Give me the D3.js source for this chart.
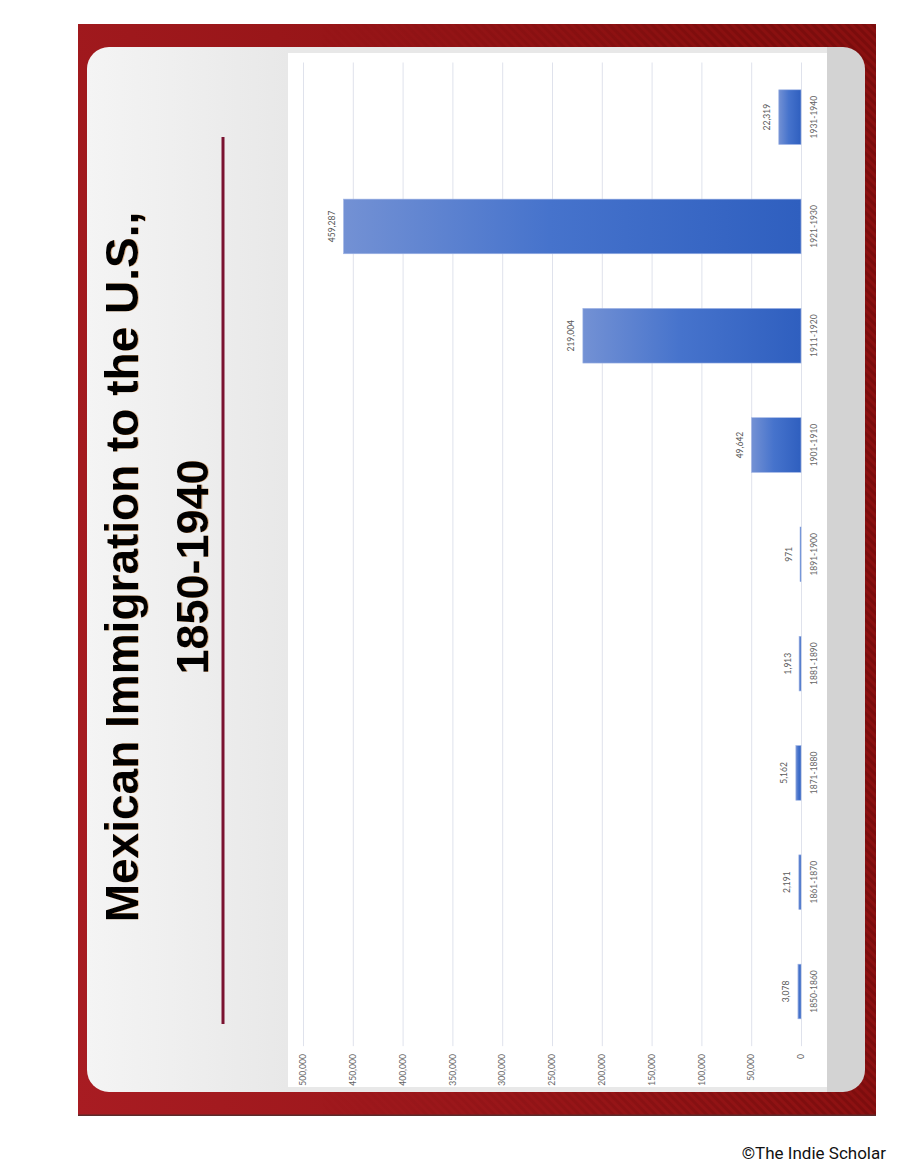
<!DOCTYPE html>
<html>
<head>
<meta charset="utf-8">
<script src="https://cdn.jsdelivr.net/npm/d3@7"></script>
<style>
  html, body { margin: 0; padding: 0; background: #fff; }
  svg { display: block; }
</style>
</head>
<body>
<svg id="slide_svg" width="900" height="1164"></svg>
<script>
// Data
const decades = ["1850-1860", "1861-1870", "1871-1880", "1881-1890", "1891-1900",
                 "1901-1910", "1911-1920", "1921-1930", "1931-1940"];
const immigrants = [3078, 2191, 5162, 1913, 971, 49642, 219004, 459287, 22319];
const valueTicks = [0, 50000, 100000, 150000, 200000, 250000, 300000, 350000, 400000, 450000, 500000];
const titleLines = ["Mexican Immigration to the U.S.,", "1850-1940"];
const credit = "\u00A9The Indie Scholar";

const svg = d3.select("#slide_svg");
const defs = svg.append("defs");

// Gradients
const frameGrad = defs.append("linearGradient").attr("id", "frameGrad")
    .attr("x1", 0).attr("y1", 0).attr("x2", 0.3).attr("y2", 1);
frameGrad.append("stop").attr("offset", "0%").attr("stop-color", "#a81c22");
frameGrad.append("stop").attr("offset", "100%").attr("stop-color", "#8a1010");

const stripeMaskGrad = defs.append("linearGradient").attr("id", "stripeMaskGrad")
    .attr("x1", 0).attr("y1", 0).attr("x2", 0).attr("y2", 1);
stripeMaskGrad.append("stop").attr("offset", "30%").attr("stop-color", "#000");
stripeMaskGrad.append("stop").attr("offset", "100%").attr("stop-color", "#fff");

const stripeMask = defs.append("mask").attr("id", "stripeMask");
stripeMask.append("rect").attr("width", 1092).attr("height", 798).attr("fill", "url(#stripeMaskGrad)");

const stripes = defs.append("pattern").attr("id", "stripes")
    .attr("patternUnits", "userSpaceOnUse")
    .attr("width", 6).attr("height", 6)
    .attr("patternTransform", "rotate(45)");
stripes.append("rect").attr("width", 3).attr("height", 6).attr("fill", "#3a0000").attr("opacity", 0.2);

const titleGrad = defs.append("linearGradient").attr("id", "titleGrad")
    .attr("gradientUnits", "userSpaceOnUse")
    .attr("x1", 0).attr("y1", 9).attr("x2", 0).attr("y2", 210);
titleGrad.append("stop").attr("offset", "0%").attr("stop-color", "#f4f4f4");
titleGrad.append("stop").attr("offset", "100%").attr("stop-color", "#e8e8e8");

const barGrad = defs.append("linearGradient").attr("id", "barGrad")
    .attr("x1", 0).attr("y1", 0).attr("x2", 0).attr("y2", 1);
barGrad.append("stop").attr("offset", "0%").attr("stop-color", "#7391d4");
barGrad.append("stop").attr("offset", "45%").attr("stop-color", "#4673cc");
barGrad.append("stop").attr("offset", "100%").attr("stop-color", "#2f5fbf");

const shadow = defs.append("filter").attr("id", "titleShadow")
    .attr("x", "-5%").attr("y", "-20%").attr("width", "110%").attr("height", "140%");
shadow.append("feDropShadow").attr("dx", 0).attr("dy", 1).attr("stdDeviation", 0.5)
    .attr("flood-color", "#b5651d").attr("flood-opacity", 0.4);

const panelClip = defs.append("clipPath").attr("id", "panelClip");
panelClip.append("rect").attr("x", 24).attr("y", 9).attr("width", 1045).attr("height", 778).attr("rx", 22);

// The slide is drawn landscape and turned a quarter turn to the left
const slideW = 1092, slideH = 798;
const slide = svg.append("g").attr("transform", "translate(78,1116) rotate(-90)");

// Red frame
slide.append("rect").attr("width", slideW).attr("height", slideH).attr("fill", "url(#frameGrad)");
slide.append("rect").attr("width", slideW).attr("height", slideH)
    .attr("fill", "url(#stripes)").attr("mask", "url(#stripeMask)");
slide.append("rect").attr("width", 1.5).attr("height", slideH).attr("fill", "#5b2b2b");

// Rounded panel
const panel = slide.append("g").attr("clip-path", "url(#panelClip)");
panel.append("rect").attr("x", 24).attr("y", 9).attr("width", 1045).attr("height", 740).attr("fill", "url(#titleGrad)");
panel.append("rect").attr("x", 24).attr("y", 749).attr("width", 1045).attr("height", 38).attr("fill", "#d3d3d3");
panel.append("rect").attr("x", 29).attr("y", 210).attr("width", 1034).attr("height", 539).attr("fill", "#ffffff");

// Title
slide.selectAll(".title")
    .data(titleLines)
    .enter()
    .append("text")
    .attr("class", "title")
    .attr("x", 549)
    .attr("y", (d, i) => i === 0 ? 60 : 130)
    .attr("text-anchor", "middle")
    .attr("font-family", "'Liberation Sans', Arial, sans-serif")
    .attr("font-weight", "bold")
    .attr("font-size", (d, i) => i === 0 ? 46 : 45)
    .attr("fill", "#000")
    .attr("filter", "url(#titleShadow)")
    .text(d => d);

slide.append("rect")
    .attr("x", 92).attr("y", 143.5).attr("width", 887).attr("height", 3)
    .attr("fill", "#7a1230");

// Chart scales
const plotLeft = 69.85, plotRight = 1053.5;
const xScale = d3.scaleBand()
    .domain(decades)
    .range([plotLeft, plotRight])
    .paddingInner(0.5)
    .paddingOuter(0.25);

const yScale = d3.scaleLinear()
    .domain([0, 500000])
    .range([723, 225]);

// Value axis with gridlines
const yAxis = d3.axisLeft(yScale)
    .tickValues(valueTicks)
    .tickFormat(d3.format(","))
    .tickSizeInner(-(plotRight - plotLeft))
    .tickSizeOuter(0)
    .tickPadding(8);

const gYAxis = slide.append("g")
    .attr("transform", `translate(${plotLeft},0)`)
    .call(yAxis);
gYAxis.select(".domain").remove();
gYAxis.selectAll(".tick line").attr("stroke", "#dfe2ec").attr("stroke-width", 1);
gYAxis.selectAll(".tick text")
    .attr("fill", "#666")
    .attr("font-family", "Lato, 'Open Sans', sans-serif")
    .attr("font-size", 8.5);

// Category axis
const xAxis = d3.axisBottom(xScale).tickSize(0).tickPadding(10);
const gXAxis = slide.append("g")
    .attr("transform", `translate(0,${yScale(0)})`)
    .call(xAxis);
gXAxis.select(".domain").remove();
gXAxis.selectAll(".tick text")
    .attr("fill", "#666")
    .attr("font-family", "Lato, 'Open Sans', sans-serif")
    .attr("font-size", 8.5);

// Bars
const barData = decades.map((d, i) => ({ decade: d, value: immigrants[i] }));

slide.append("g")
    .selectAll("rect")
    .data(barData)
    .enter()
    .append("rect")
    .attr("x", d => xScale(d.decade))
    .attr("width", xScale.bandwidth())
    .attr("y", d => yScale(d.value))
    .attr("height", d => yScale(0) - yScale(d.value))
    .attr("fill", "url(#barGrad)")
    .attr("stroke", "#9fb4e4")
    .attr("stroke-width", 0.6);

// Data labels
slide.append("g")
    .selectAll("text")
    .data(barData)
    .enter()
    .append("text")
    .attr("x", d => xScale(d.decade) + xScale.bandwidth() / 2)
    .attr("y", d => yScale(d.value) - 8.5)
    .attr("text-anchor", "middle")
    .attr("fill", "#595959")
    .attr("font-family", "Lato, 'Open Sans', sans-serif")
    .attr("font-size", 8.5)
    .text(d => d3.format(",")(d.value));

// Credit line
svg.append("text")
    .attr("x", 886)
    .attr("y", 1159)
    .attr("text-anchor", "end")
    .attr("font-family", "Roboto, sans-serif")
    .attr("font-size", 17)
    .attr("fill", "#111")
    .text(credit);
</script>
</body>
</html>
